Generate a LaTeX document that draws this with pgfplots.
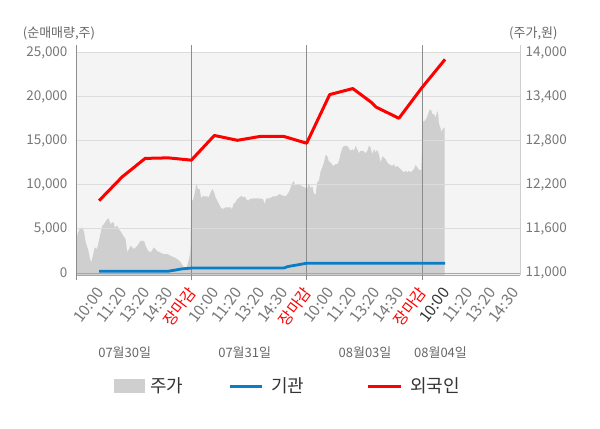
\documentclass[border=0pt]{standalone}
\usepackage{fontspec}
\setmainfont{Noto Sans CJK KR}
\usepackage{pgfplots}
\pgfplotsset{compat=1.18}
\definecolor{bgc}{HTML}{F4F4F4}
\definecolor{areac}{HTML}{CFCFCF}
\definecolor{gridc}{HTML}{DCDCDC}
\definecolor{zeroc}{HTML}{A6A6A6}
\definecolor{dayc}{HTML}{8C8C8C}
\definecolor{tickc}{HTML}{777777}
\definecolor{titc}{HTML}{666666}
\definecolor{legc}{HTML}{333333}
\definecolor{bluc}{HTML}{0A7DC8}
\definecolor{redc}{HTML}{FF0000}

\pgfplotstableread{
x price
0.00 11326
0.06 11530
0.17 11607
0.27 11621
0.35 11561
0.42 11421
0.52 11326
0.61 11190
0.66 11145
0.75 11258
0.81 11349
0.90 11326
0.95 11371
1.04 11507
1.14 11643
1.21 11666
1.36 11734
1.40 11747
1.50 11666
1.62 11697
1.68 11621
1.79 11643
1.86 11598
1.96 11553
2.05 11507
2.15 11462
2.22 11281
2.30 11326
2.37 11371
2.51 11326
2.66 11371
2.80 11439
2.95 11439
3.02 11371
3.12 11303
3.24 11281
3.38 11349
3.50 11303
3.64 11281
3.78 11258
3.96 11258
4.10 11235
4.25 11213
4.39 11190
4.54 11145
4.68 11077
4.80 11077
4.90 11190
4.96 11300
5.00 12006
5.07 11983
5.14 12074
5.22 12210
5.29 12142
5.36 12142
5.43 12015
5.50 12051
5.58 12042
5.69 12042
5.75 12029
5.84 12097
5.91 12142
5.98 12105
6.05 12029
6.13 11983
6.20 11938
6.27 11893
6.37 11870
6.47 11893
6.59 11893
6.70 11893
6.76 11870
6.83 11938
6.91 11961
6.99 12006
7.09 12029
7.17 12051
7.24 12029
7.31 12042
7.38 12006
7.46 11983
7.53 12006
7.67 12015
7.82 12015
7.96 12015
8.11 12006
8.18 11938
8.25 12015
8.39 12015
8.54 12042
8.68 12042
8.83 12074
8.97 12051
9.12 12051
9.26 12118
9.36 12210
9.44 12254
9.51 12186
9.62 12210
9.77 12186
9.91 12165
10.03 12151
10.10 12223
10.17 12151
10.24 12186
10.32 12074
10.39 12074
10.46 12233
10.53 12254
10.61 12390
10.68 12437
10.75 12504
10.82 12604
10.89 12594
10.97 12513
11.04 12504
11.15 12458
11.26 12481
11.33 12481
11.40 12526
11.47 12617
11.54 12695
11.62 12730
11.76 12730
11.83 12695
11.91 12662
11.98 12685
12.05 12662
12.12 12730
12.19 12685
12.27 12631
12.34 12662
12.45 12662
12.56 12631
12.63 12662
12.70 12730
12.77 12708
12.84 12617
12.92 12685
12.99 12640
13.06 12676
13.13 12617
13.21 12504
13.28 12586
13.35 12572
13.42 12549
13.50 12504
13.57 12481
13.64 12468
13.71 12458
13.78 12481
13.86 12437
13.93 12458
14.00 12437
14.07 12413
14.15 12390
14.22 12369
14.29 12390
14.36 12369
14.43 12390
14.51 12369
14.58 12390
14.65 12413
14.72 12468
14.80 12437
14.87 12404
14.97 12404
15.03 13056
15.11 13070
15.19 13102
15.26 13161
15.33 13219
15.40 13219
15.45 13161
15.52 13161
15.59 13116
15.66 13206
15.71 13147
15.73 13039
15.81 12967
15.85 12912
15.89 12957
15.98 12980
}\pricetab

\pgfplotstableread{
x inst
1 200
4 200
4.3 330
4.6 470
5 560
9 560
9.2 740
9.6 920
10 1110
16 1110
}\insttab

\pgfplotstableread{
x forn
1 8200
2 10900
3 13000
4 13060
5 12800
6 15600
7 15050
8 15500
9 15500
10 14720
11 20240
12 20920
12.82 19330
13 18830
14 17550
15 21030
16 24230
}\forntab

\begin{document}
\begin{tikzpicture}[x=1bp,y=1bp]
\path[use as bounding box] (0,0) rectangle (600,428);
\begin{axis}[
  at={(76bp,153bp)}, anchor=south west,
  scale only axis, width=444bp, height=230bp,
  xmin=0, xmax=19.25,
  ymin=10972.8, ymax=14103.4,
  scaled y ticks=false,
  axis on top,
  axis x line*=bottom, axis y line*=right,
  x axis line style={draw=zeroc, -},
  y axis line style={draw=gridc!85!gray, -},
  xtick=\empty,
  major tick length=0pt,
  extra x ticks={0,5,10,15},
  extra x tick labels={},
  extra x tick style={grid=major, major grid style={draw=dayc, line width=0.9bp}, major tick length=5bp, tick align=outside, tick style={draw=dayc, line width=0.9bp}},
  ytick={11600,12200,12800,13400,14000},
  ymajorgrids, major grid style={draw=gridc, line width=0.9bp},
  extra y ticks={11000},
  extra y tick style={grid=major, major grid style={draw=zeroc, line width=0.9bp}},
  yticklabel style={font=\fontsize{13.5bp}{15bp}\selectfont, text=tickc, xshift=2bp},
  /pgf/number format/1000 sep={,},
  /pgf/number format/assume math mode=true,
]
\fill[bgc] (axis cs:0,10972.8) rectangle (axis cs:19.25,14010);
\addplot[draw=none, fill=areac] table[x=x, y=price] {\pricetab} \closedcycle;
\end{axis}
\begin{axis}[
  at={(76bp,153bp)}, anchor=south west,
  scale only axis, width=444bp, height=230bp,
  xmin=0, xmax=19.25,
  ymin=-227, ymax=25862,
  scaled y ticks=false,
  axis x line=none, axis y line*=left,
  y axis line style={draw=dayc, line width=0.9bp, -},
  ytick={0,5000,10000,15000,20000,25000},
  major tick length=0pt,
  yticklabel style={font=\fontsize{13.5bp}{15bp}\selectfont, text=tickc, xshift=-5bp},
  /pgf/number format/1000 sep={,},
  /pgf/number format/assume math mode=true,
]
\addplot[bluc, line width=2.8bp, line join=round] table[x=x, y=inst] {\insttab};
\addplot[redc, line width=3bp, line join=round] table[x=x, y=forn] {\forntab};
\end{axis}
% x tick labels (time slots)
\foreach \i/\lab/\col in {1/10:00/tickc, 2/11:20/tickc, 3/13:20/tickc, 4/14:30/tickc, 5/장마감/redc,
  6/10:00/tickc, 7/11:20/tickc, 8/13:20/tickc, 9/14:30/tickc, 10/장마감/redc,
  11/10:00/tickc, 12/11:20/tickc, 13/13:20/tickc, 14/14:30/tickc, 15/장마감/redc,
  16/10:00/legc, 17/11:20/tickc, 18/13:20/tickc, 19/14:30/tickc}
  \node[rotate=53, anchor=east, inner sep=0, text=\col, font=\fontsize{15.5bp}{17bp}\selectfont] at ({76+\i*23.065+1}, 138.5) {\lab};
% axis titles
\node[anchor=west, inner sep=0, text=titc, font=\fontsize{13bp}{15bp}\selectfont] at (22.7,395) {(순매매량,주)};
\node[anchor=west, inner sep=0, text=titc, font=\fontsize{13bp}{15bp}\selectfont] at (509,395) {(주가,원)};
% date labels
\foreach \xx/\dd in {124.7/07월30일, 244.7/07월31일, 365/08월03일, 440.5/08월04일}
  \node[inner sep=0, text=titc, font=\fontsize{13bp}{15bp}\selectfont] at (\xx,75) {\dd};
% legend
\fill[areac] (114,35) rectangle (145,49);
\node[anchor=west, inner sep=0, text=legc, font=\fontsize{18bp}{20bp}\selectfont] at (150,42) {주가};
\draw[bluc, line width=3bp] (230,42) -- (262,42);
\node[anchor=west, inner sep=0, text=legc, font=\fontsize{18bp}{20bp}\selectfont] at (271,42) {기관};
\draw[redc, line width=3bp] (368,42) -- (401,42);
\node[anchor=west, inner sep=0, text=legc, font=\fontsize{18bp}{20bp}\selectfont] at (410,42) {외국인};
\end{tikzpicture}
\end{document}
